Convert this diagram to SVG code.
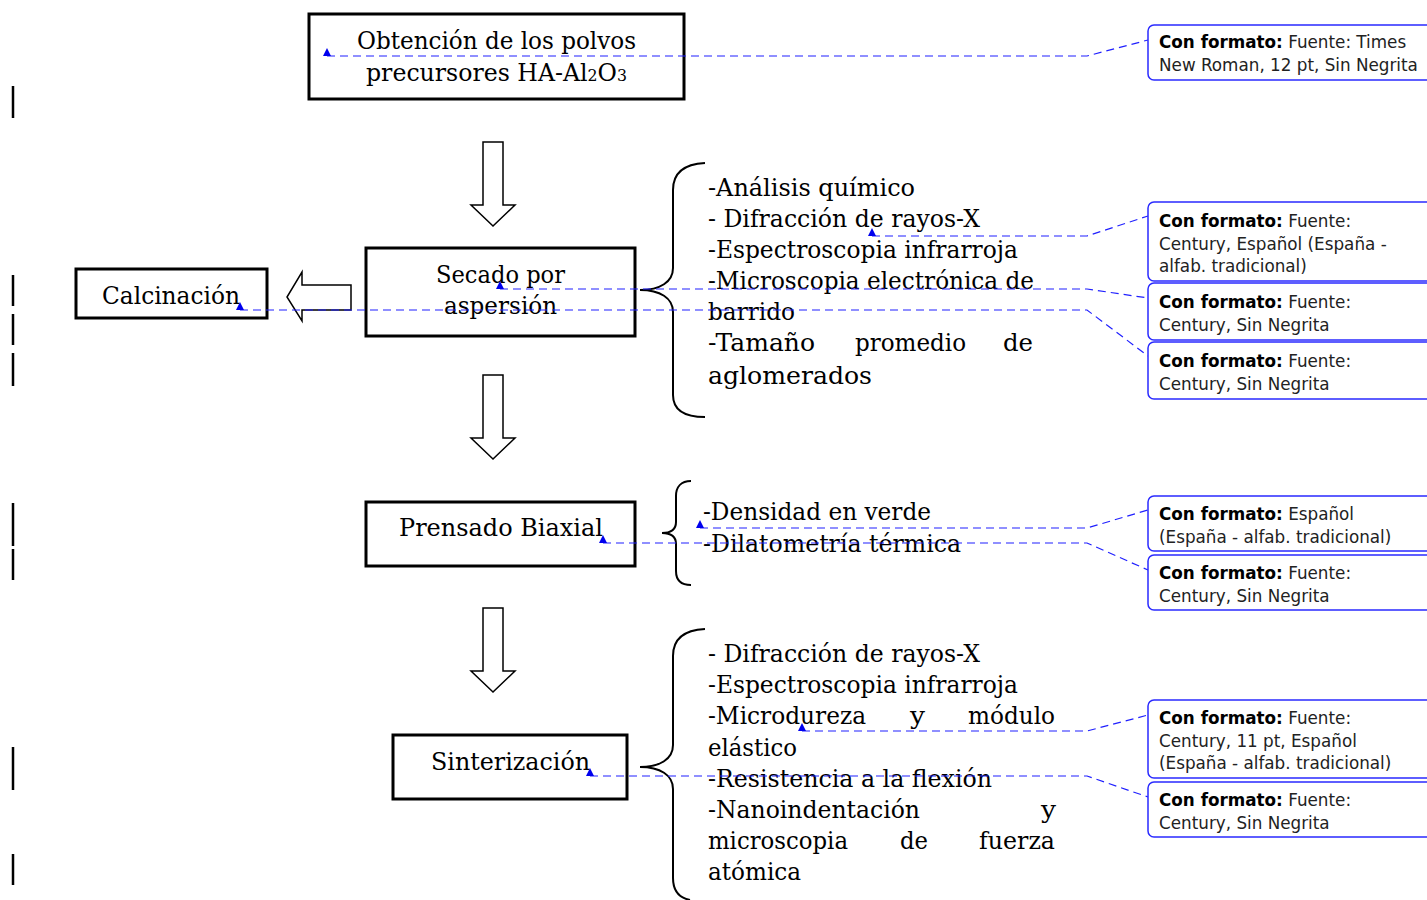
<svg xmlns="http://www.w3.org/2000/svg" width="1427" height="900" viewBox="0 0 1427 900">
<defs>
<style>
.box{fill:#fff;stroke:#000;stroke-width:3}
.t{font-family:"DejaVu Serif","Liberation Serif",serif;font-size:24px;fill:#000}
.arr{fill:#fff;stroke:#000;stroke-width:1.5;stroke-linejoin:miter}
.brace{fill:none;stroke:#000;stroke-width:2}
.cb{fill:#fff;stroke:#2a2aff;stroke-width:1.5}
.ct{font-family:"DejaVu Sans",Verdana,sans-serif;font-size:16.8px;fill:#222}
.ct .b{font-weight:bold;fill:#000}
.con{fill:none;stroke:#2020ff;stroke-width:1.2;stroke-dasharray:8 5}
.tri{fill:#0000ee}
.bar{stroke:#000;stroke-width:2.5}
</style>
</defs>

<g id="changebars">
<line class="bar" x1="13" y1="86" x2="13" y2="118"/>
<line class="bar" x1="13" y1="275" x2="13" y2="306"/>
<line class="bar" x1="13" y1="314" x2="13" y2="345"/>
<line class="bar" x1="13" y1="353" x2="13" y2="386"/>
<line class="bar" x1="13" y1="503" x2="13" y2="546"/>
<line class="bar" x1="13" y1="549" x2="13" y2="580"/>
<line class="bar" x1="13" y1="747" x2="13" y2="790"/>
<line class="bar" x1="13" y1="854" x2="13" y2="885"/>
</g>

<g id="node-obtencion">
<rect class="box" x="309" y="14" width="375" height="85"/>
<text class="t" x="357" y="49" textLength="279" lengthAdjust="spacingAndGlyphs">Obtención de los polvos</text>
<text class="t" x="366" y="81" textLength="261" lengthAdjust="spacingAndGlyphs">precursores HA-Al<tspan font-size="16">2</tspan>O<tspan font-size="16">3</tspan></text>
</g>

<g id="node-secado">
<rect class="box" x="366" y="248" width="269" height="88"/>
<text class="t" x="436" y="283" textLength="129" lengthAdjust="spacingAndGlyphs">Secado por</text>
<text class="t" x="444" y="314" textLength="113" lengthAdjust="spacingAndGlyphs">aspersión</text>
</g>

<g id="node-calcinacion">
<rect class="box" x="76" y="269" width="191" height="49"/>
<text class="t" x="102" y="304" textLength="138" lengthAdjust="spacingAndGlyphs">Calcinación</text>
</g>

<g id="node-prensado">
<rect class="box" x="366" y="502" width="269" height="64"/>
<text class="t" x="399" y="536" textLength="204" lengthAdjust="spacingAndGlyphs">Prensado Biaxial</text>
</g>

<g id="node-sinterizacion">
<rect class="box" x="393" y="735" width="234" height="64"/>
<text class="t" x="431" y="770" textLength="159" lengthAdjust="spacingAndGlyphs">Sinterización</text>
</g>

<g id="arrows">
<path class="arr" d="M483,142 H503 V205 H515 L493,226 L471,205 H483 Z"/>
<path class="arr" d="M483,375 H503 V438 H515 L493,459 L471,438 H483 Z"/>
<path class="arr" d="M483,608 H503 V671 H515 L493,692 L471,671 H483 Z"/>
<path class="arr" d="M351,285 V310 H302 V321 L287,297 L302,272 V285 Z"/>
</g>

<g id="braces">
<path class="brace" d="M705,163 C685,164 673,172 673,190 V268 C673,282 660,290 640,290 C660,290 673,298 673,312 V395 C673,410 685,417 705,417"/>
<path class="brace" d="M691,481 C681,481 676,487 676,496 V522 C676,529 671,533 662,533 C671,533 676,537 676,544 V571 C676,580 681,585 691,585"/>
<path class="brace" d="M705,629 C685,630 673,638 673,656 V745 C673,759 660,767 640,767 C660,767 673,775 673,789 V878 C673,892 680,898 690,900"/>
</g>

<g id="list-secado">
<text class="t" x="708" y="196" textLength="207" lengthAdjust="spacingAndGlyphs">-Análisis químico</text>
<text class="t" x="708" y="227" textLength="272" lengthAdjust="spacingAndGlyphs">- Difracción de rayos-X</text>
<text class="t" x="708" y="258" textLength="310" lengthAdjust="spacingAndGlyphs">-Espectroscopia infrarroja</text>
<text class="t" x="708" y="289" textLength="326" lengthAdjust="spacingAndGlyphs">-Microscopia electrónica de</text>
<text class="t" x="708" y="320" textLength="87" lengthAdjust="spacingAndGlyphs">barrido</text>
<text class="t" x="708" y="351" textLength="107" lengthAdjust="spacingAndGlyphs">-Tamaño</text>
<text class="t" x="855" y="351" textLength="111" lengthAdjust="spacingAndGlyphs">promedio</text>
<text class="t" x="1003" y="351" textLength="30" lengthAdjust="spacingAndGlyphs">de</text>
<text class="t" x="708" y="384" textLength="164" lengthAdjust="spacingAndGlyphs">aglomerados</text>
</g>

<g id="list-prensado">
<text class="t" x="703" y="520" textLength="228" lengthAdjust="spacingAndGlyphs">-Densidad en verde</text>
<text class="t" x="703" y="552" textLength="258" lengthAdjust="spacingAndGlyphs">-Dilatometría térmica</text>
</g>

<g id="list-sinterizacion">
<text class="t" x="708" y="662" textLength="272" lengthAdjust="spacingAndGlyphs">- Difracción de rayos-X</text>
<text class="t" x="708" y="693" textLength="310" lengthAdjust="spacingAndGlyphs">-Espectroscopia infrarroja</text>
<text class="t" x="708" y="724" textLength="158" lengthAdjust="spacingAndGlyphs">-Microdureza</text>
<text class="t" x="910" y="724" textLength="15" lengthAdjust="spacingAndGlyphs">y</text>
<text class="t" x="968" y="724" textLength="87" lengthAdjust="spacingAndGlyphs">módulo</text>
<text class="t" x="708" y="756" textLength="89" lengthAdjust="spacingAndGlyphs">elástico</text>
<text class="t" x="708" y="787" textLength="284" lengthAdjust="spacingAndGlyphs">-Resistencia a la flexión</text>
<text class="t" x="708" y="818" textLength="212" lengthAdjust="spacingAndGlyphs">-Nanoindentación</text>
<text class="t" x="1041" y="818" textLength="15" lengthAdjust="spacingAndGlyphs">y</text>
<text class="t" x="708" y="849" textLength="140" lengthAdjust="spacingAndGlyphs">microscopia</text>
<text class="t" x="900" y="849" textLength="28" lengthAdjust="spacingAndGlyphs">de</text>
<text class="t" x="979" y="849" textLength="76" lengthAdjust="spacingAndGlyphs">fuerza</text>
<text class="t" x="708" y="880" textLength="93" lengthAdjust="spacingAndGlyphs">atómica</text>
</g>

<g id="connectors">
<path class="con" d="M327,56 H1087 L1148,40"/>
<path class="con" d="M872,236 H1087 L1148,216"/>
<path class="con" d="M500,289 H1087 L1148,298"/>
<path class="con" d="M240,310 H1087 L1148,356"/>
<path class="con" d="M700,528 H1087 L1148,510"/>
<path class="con" d="M603,543 H1087 L1148,570"/>
<path class="con" d="M802,731 H1087 L1148,715"/>
<path class="con" d="M590,776 H1087 L1148,797"/>
<polygon class="tri" points="323,56 331,56 327,48"/>
<polygon class="tri" points="868,236 876,236 872,228"/>
<polygon class="tri" points="496,289 504,289 500,281"/>
<polygon class="tri" points="236,310 244,310 240,302"/>
<polygon class="tri" points="696,528 704,528 700,520"/>
<polygon class="tri" points="599,543 607,543 603,535"/>
<polygon class="tri" points="798,731 806,731 802,723"/>
<polygon class="tri" points="586,776 594,776 590,768"/>
</g>

<g id="comment-1">
<rect class="cb" x="1148" y="25" width="290" height="55" rx="6"/>
<text class="ct" x="1159" y="48"><tspan class="b">Con formato:</tspan> Fuente: Times</text>
<text class="ct" x="1159" y="71">New Roman, 12 pt, Sin Negrita</text>
</g>
<g id="comment-2">
<rect class="cb" x="1148" y="202" width="290" height="79" rx="6"/>
<text class="ct" x="1159" y="227"><tspan class="b">Con formato:</tspan> Fuente:</text>
<text class="ct" x="1159" y="250">Century, Español (España -</text>
<text class="ct" x="1159" y="272">alfab. tradicional)</text>
</g>
<g id="comment-3">
<rect class="cb" x="1148" y="283" width="290" height="57" rx="6"/>
<text class="ct" x="1159" y="308"><tspan class="b">Con formato:</tspan> Fuente:</text>
<text class="ct" x="1159" y="331">Century, Sin Negrita</text>
</g>
<g id="comment-4">
<rect class="cb" x="1148" y="342" width="290" height="57" rx="6"/>
<text class="ct" x="1159" y="367"><tspan class="b">Con formato:</tspan> Fuente:</text>
<text class="ct" x="1159" y="390">Century, Sin Negrita</text>
</g>
<g id="comment-5">
<rect class="cb" x="1148" y="496" width="290" height="55" rx="6"/>
<text class="ct" x="1159" y="520"><tspan class="b">Con formato:</tspan> Español</text>
<text class="ct" x="1159" y="543">(España - alfab. tradicional)</text>
</g>
<g id="comment-6">
<rect class="cb" x="1148" y="555" width="290" height="55" rx="6"/>
<text class="ct" x="1159" y="579"><tspan class="b">Con formato:</tspan> Fuente:</text>
<text class="ct" x="1159" y="602">Century, Sin Negrita</text>
</g>
<g id="comment-7">
<rect class="cb" x="1148" y="700" width="290" height="78" rx="6"/>
<text class="ct" x="1159" y="724"><tspan class="b">Con formato:</tspan> Fuente:</text>
<text class="ct" x="1159" y="747">Century, 11 pt, Español</text>
<text class="ct" x="1159" y="769">(España - alfab. tradicional)</text>
</g>
<g id="comment-8">
<rect class="cb" x="1148" y="782" width="290" height="55" rx="6"/>
<text class="ct" x="1159" y="806"><tspan class="b">Con formato:</tspan> Fuente:</text>
<text class="ct" x="1159" y="829">Century, Sin Negrita</text>
</g>
</svg>
